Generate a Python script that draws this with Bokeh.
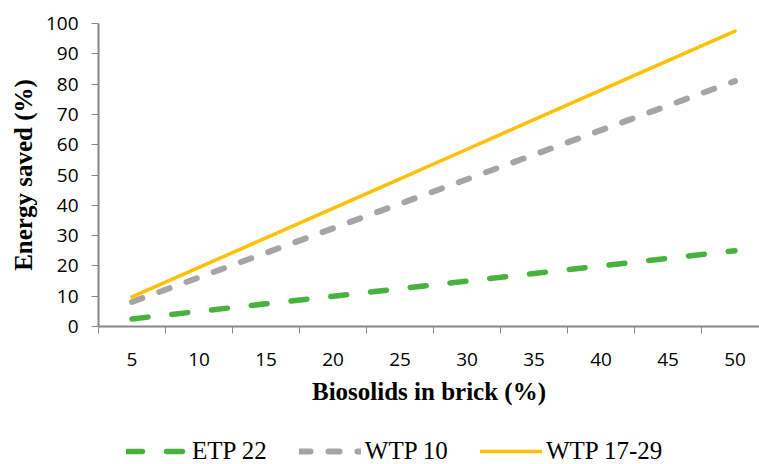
from bokeh.plotting import figure
from bokeh.layouts import column
from bokeh.models import FixedTicker, Range1d, Legend, LegendItem
from bokeh.embed import file_html
from bokeh.resources import INLINE

# ---- data ----
biosolids = [5, 10, 15, 20, 25, 30, 35, 40, 45, 50]
etp22 = [2.5, 5.0, 7.5, 10.0, 12.5, 15.0, 17.5, 20.0, 22.5, 25.0]
wtp10 = [8.1, 16.2, 24.3, 32.4, 40.5, 48.6, 56.7, 64.8, 72.9, 81.0]
wtp1729 = [9.75, 19.5, 29.25, 39.0, 48.75, 58.5, 68.25, 78.0, 87.75, 97.5]
y_ticks = [0, 10, 20, 30, 40, 50, 60, 70, 80, 90, 100]
series_names = ["ETP 22", "WTP 10", "WTP 17-29"]

# category positions (Excel-style category axis)
xpos = [i + 1 for i in range(len(biosolids))]
boundaries = [i + 0.5 for i in range(len(biosolids) + 1)]

W = 759
H_MAIN, H_LEG = 428, 36
LEFT, TOP = 98, 23
FRAME_H = 303
CAT_PX = 67.0

colors = ["#48B23F", "#A5A5A5", "#FFC000"]
widths = [5.5, 6, 3.5]
dashes = ["16 24", "11 18", "solid"]
series = [etp22, wtp10, wtp1729]

p = figure(width=W, height=H_MAIN, output_backend="svg", toolbar_location=None,
           x_range=Range1d(0.5, 0.5 + (W - LEFT) / CAT_PX),
           y_range=Range1d(0, 100),
           min_border_left=LEFT, min_border_right=0, min_border_top=TOP,
           min_border_bottom=H_MAIN - TOP - FRAME_H)
p.outline_line_color = None
p.xgrid.grid_line_color = None
p.ygrid.grid_line_color = None

axis_col = "#868686"
tick_font = "Open Sans"
title_font = "Liberation Serif"

# x axis
xa = p.xaxis[0]
xa.ticker = FixedTicker(ticks=xpos, minor_ticks=boundaries)
xa.major_label_overrides = {x: str(b) for x, b in zip(xpos, biosolids)}
xa.major_tick_out = 0
xa.major_tick_in = 0
xa.minor_tick_out = 7
xa.minor_tick_in = 0
xa.minor_tick_line_color = axis_col
xa.axis_line_color = axis_col
xa.axis_line_width = 2
xa.major_label_text_font = tick_font
xa.major_label_text_font_size = "19px"
xa.major_label_text_color = "black"
xa.major_label_standoff = 19
xa.axis_label = "Biosolids in brick (%)"
xa.axis_label_text_font = title_font
xa.axis_label_text_font_style = "bold"
xa.axis_label_text_font_size = "25px"
xa.axis_label_text_color = "black"
xa.axis_label_standoff = 9

# y axis
ya = p.yaxis[0]
ya.ticker = FixedTicker(ticks=y_ticks)
ya.minor_tick_line_color = None
ya.major_tick_out = 7
ya.major_tick_in = 0
ya.major_tick_line_color = axis_col
ya.axis_line_color = axis_col
ya.axis_line_width = 2
ya.major_label_text_font = tick_font
ya.major_label_text_font_size = "19px"
ya.major_label_text_color = "black"
ya.major_label_standoff = 13
ya.axis_label = "Energy saved (%)"
ya.axis_label_text_font = title_font
ya.axis_label_text_font_style = "bold"
ya.axis_label_text_font_size = "25px"
ya.axis_label_text_color = "black"
ya.axis_label_standoff = 6

for vals, c, w, d in zip(series, colors, widths, dashes):
    p.line(xpos, vals, line_color=c, line_width=w, line_dash=d, line_cap="round")

# legend strip (separate figure below the chart; its lines fall outside its view)
pl = figure(width=W, height=H_LEG, output_backend="svg", toolbar_location=None,
            x_range=Range1d(-2, -1), y_range=Range1d(0, 1),
            x_axis_location=None, y_axis_location=None, min_border=0)
pl.outline_line_color = None
pl.xgrid.grid_line_color = None
pl.ygrid.grid_line_color = None
items = []
for name, vals, c, w, d in zip(series_names, series, colors, widths, dashes):
    r = pl.line(xpos, vals, line_color=c, line_width=w, line_dash=d, line_cap="round")
    items.append(LegendItem(label=name, renderers=[r]))
legend = Legend(items=items, orientation="horizontal", location=(28, -1),
                glyph_width=62, glyph_height=20, label_standoff=4, spacing=32,
                padding=0, margin=0,
                label_text_font=title_font, label_text_font_size="25px",
                label_text_color="black",
                border_line_color=None, background_fill_alpha=0)
pl.add_layout(legend, "center")

layout = column(p, pl, spacing=0)
open("out.html", "w").write(file_html(layout, INLINE))
